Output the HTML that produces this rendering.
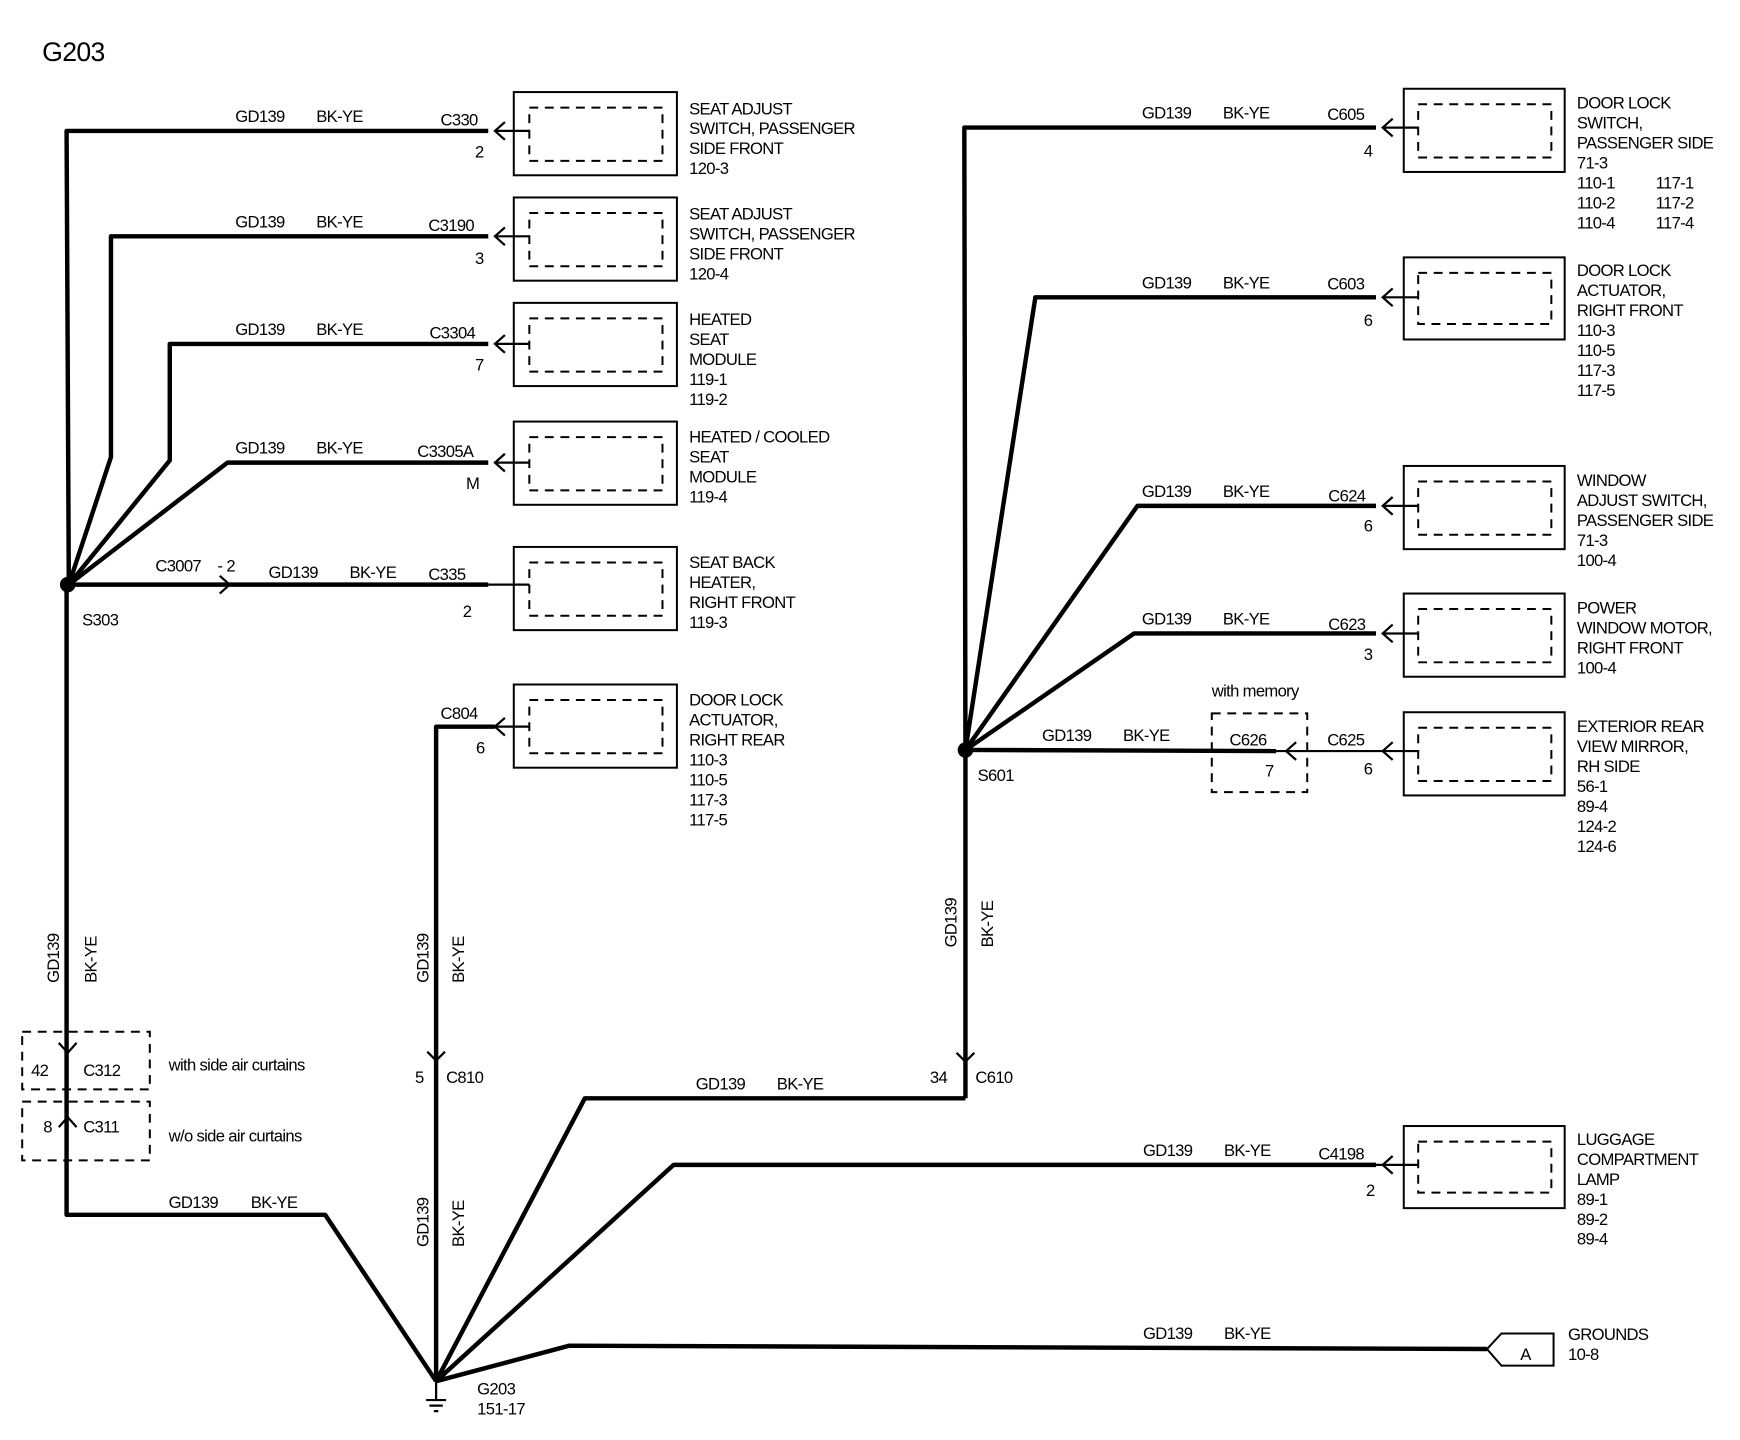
<!DOCTYPE html>
<html><head><meta charset="utf-8"><style>
html,body{margin:0;padding:0;background:#fff;}
svg{display:block;}
text{font-family:"Liberation Sans",Arial,sans-serif;font-size:15px;fill:#000;letter-spacing:-0.6px;}
.w{stroke:#000;stroke-width:4;fill:none;stroke-linejoin:round;}
.t{stroke:#000;stroke-width:2;fill:none;}
.b{stroke:#000;stroke-width:1.8;fill:none;}
.d{stroke:#000;stroke-width:1.8;fill:none;stroke-dasharray:8,6;}
</style></head><body>
<svg width="1740" height="1440" viewBox="0 0 1568 1298" preserveAspectRatio="none">
<text x="38" y="55" style="font-size:24px">G203</text>

<path class="w" d="M62,527 L60,118 L440,118"/>
<path class="w" d="M62,527 L100,412 L100,213 L440,213"/>
<path class="w" d="M62,527 L153,415 L153,310 L440,310"/>
<path class="w" d="M62,527 L205,417 L440,417"/>
<path class="w" d="M62,527 L440,527"/>
<path class="w" d="M60,527 L60,1095 L293,1095 L393,1245"/>
<circle cx="61" cy="527" r="7" fill="#000"/>
<text x="74" y="564">S303</text>

<g class="t">
<path d="M446,118 L477,118"/><path d="M455,110 L446,118 L455,126"/>
<path d="M446,213 L477,213"/><path d="M455,205 L446,213 L455,221"/>
<path d="M446,310 L477,310"/><path d="M455,302 L446,310 L455,318"/>
<path d="M446,417 L477,417"/><path d="M455,409 L446,417 L455,425"/>
<path d="M440,527 L477,527"/>
<path d="M198,519 L207,527 L198,535"/>
<path d="M446,655 L477,655"/><path d="M455,647 L446,655 L455,663"/>
</g>
<g>
<rect class="b" x="463" y="83" width="147" height="75"/><rect class="d" x="477" y="97" width="120" height="48"/>
<rect class="b" x="463" y="178" width="147" height="75"/><rect class="d" x="477" y="192" width="120" height="48"/>
<rect class="b" x="463" y="273" width="147" height="75"/><rect class="d" x="477" y="287" width="120" height="48"/>
<rect class="b" x="463" y="380" width="147" height="75"/><rect class="d" x="477" y="394" width="120" height="48"/>
<rect class="b" x="463" y="493" width="147" height="75"/><rect class="d" x="477" y="507" width="120" height="48"/>
<rect class="b" x="463" y="617" width="147" height="75"/><rect class="d" x="477" y="631" width="120" height="48"/>
</g>
<g>
<text x="212" y="110">GD139</text><text x="285" y="110">BK-YE</text><text x="397" y="113">C330</text><text x="428" y="142">2</text>
<text x="212" y="205">GD139</text><text x="285" y="205">BK-YE</text><text x="386" y="208">C3190</text><text x="428" y="238">3</text>
<text x="212" y="302">GD139</text><text x="285" y="302">BK-YE</text><text x="387" y="305">C3304</text><text x="428" y="334">7</text>
<text x="212" y="409">GD139</text><text x="285" y="409">BK-YE</text><text x="376" y="412">C3305A</text><text x="420" y="441">M</text>
<text x="140" y="515">C3007</text><text x="196" y="515">- 2</text><text x="242" y="521">GD139</text><text x="315" y="521">BK-YE</text><text x="386" y="523">C335</text><text x="417" y="556">2</text>
<text x="397" y="648">C804</text><text x="429" y="679">6</text>
</g>
<g>
<text x="621" y="103">SEAT ADJUST</text><text x="621" y="121">SWITCH, PASSENGER</text><text x="621" y="139">SIDE FRONT</text><text x="621" y="157">120-3</text>
<text x="621" y="198">SEAT ADJUST</text><text x="621" y="216">SWITCH, PASSENGER</text><text x="621" y="234">SIDE FRONT</text><text x="621" y="252">120-4</text>
<text x="621" y="293">HEATED</text><text x="621" y="311">SEAT</text><text x="621" y="329">MODULE</text><text x="621" y="347">119-1</text><text x="621" y="365">119-2</text>
<text x="621" y="399">HEATED / COOLED</text><text x="621" y="417">SEAT</text><text x="621" y="435">MODULE</text><text x="621" y="453">119-4</text>
<text x="621" y="512">SEAT BACK</text><text x="621" y="530">HEATER,</text><text x="621" y="548">RIGHT FRONT</text><text x="621" y="566">119-3</text>
<text x="621" y="636">DOOR LOCK</text><text x="621" y="654">ACTUATOR,</text><text x="621" y="672">RIGHT REAR</text><text x="621" y="690">110-3</text><text x="621" y="708">110-5</text><text x="621" y="726">117-3</text><text x="621" y="744">117-5</text>
</g>

<text transform="translate(53,886) rotate(-90)">GD139</text>
<text transform="translate(87,886) rotate(-90)">BK-YE</text>
<text transform="translate(386,886) rotate(-90)">GD139</text>
<text transform="translate(418,886) rotate(-90)">BK-YE</text>
<text transform="translate(386,1124) rotate(-90)">GD139</text>
<text transform="translate(418,1124) rotate(-90)">BK-YE</text>
<text transform="translate(862,854) rotate(-90)">GD139</text>
<text transform="translate(895,854) rotate(-90)">BK-YE</text>

<rect class="d" x="20" y="930" width="115" height="52"/>
<rect class="d" x="20" y="993" width="115" height="53"/>
<g class="t"><path d="M53,940 L61,949 L69,940"/><path d="M53,1016 L61,1007 L69,1016"/></g>
<text x="28" y="970">42</text><text x="75" y="970">C312</text><text x="152" y="965">with side air curtains</text>
<text x="39" y="1021">8</text><text x="75" y="1021">C311</text><text x="152" y="1029">w/o side air curtains</text>
<text x="152" y="1089">GD139</text><text x="226" y="1089">BK-YE</text>

<path class="w" d="M446,655 L393,655 L393,1245"/>
<path class="t" d="M385,948 L393,956 L401,948"/>
<text x="374" y="976">5</text><text x="402" y="976">C810</text>

<path class="w" d="M393,1245 L527,990 L870,990"/>
<path class="w" d="M393,1245 L607,1050 L1240,1050"/>
<path class="w" d="M393,1245 L513,1213 L1340,1216"/>
<g class="t"><path d="M1240,1050 L1278,1050"/><path d="M1255,1042 L1246,1050 L1255,1058"/></g>
<path class="t" d="M393,1245 L393,1262 M384,1262 L402,1262 M387,1267 L399,1267 M391,1272 L395,1272"/>
<text x="430" y="1257">G203</text><text x="430" y="1275">151-17</text>
<text x="627" y="982">GD139</text><text x="700" y="982">BK-YE</text>
<text x="1030" y="1042">GD139</text><text x="1103" y="1042">BK-YE</text><text x="1188" y="1045">C4198</text><text x="1231" y="1078">2</text>
<text x="1030" y="1207">GD139</text><text x="1103" y="1207">BK-YE</text>
<path class="b" d="M1340,1216 L1353,1202 L1400,1202 L1400,1231 L1353,1231 Z"/>
<text x="1370" y="1226">A</text>
<text x="1413" y="1208">GROUNDS</text><text x="1413" y="1226">10-8</text>

<path class="w" d="M870,676 L870,990"/>
<path class="t" d="M862,949 L870,957 L878,949"/>
<text x="838" y="976">34</text><text x="879" y="976">C610</text>
<path class="w" d="M870,676 L869,115 L1240,115"/>
<path class="w" d="M870,676 L933,268 L1240,268"/>
<path class="w" d="M870,676 L1025,456 L1240,456"/>
<path class="w" d="M870,676 L1022,571 L1240,571"/>
<path class="w" d="M870,676 L1150,677"/>
<path class="t" d="M1150,677 L1240,677"/>
<circle cx="870" cy="676" r="7" fill="#000"/>
<text x="881" y="704">S601</text>
<g class="t">
<path d="M1246,115 L1278,115"/><path d="M1255,107 L1246,115 L1255,123"/>
<path d="M1246,268 L1278,268"/><path d="M1255,260 L1246,268 L1255,276"/>
<path d="M1246,456 L1278,456"/><path d="M1255,448 L1246,456 L1255,464"/>
<path d="M1246,571 L1278,571"/><path d="M1255,563 L1246,571 L1255,579"/>
<path d="M1240,677 L1278,677"/><path d="M1255,669 L1246,677 L1255,685"/>
<path d="M1168,669 L1159,677 L1168,685"/>
</g>
<rect class="d" x="1092" y="643" width="86" height="71"/>
<text x="1092" y="628">with memory</text><text x="1108" y="672">C626</text><text x="1140" y="700">7</text>
<g>
<rect class="b" x="1265" y="80" width="145" height="75"/><rect class="d" x="1278" y="94" width="120" height="48"/>
<rect class="b" x="1265" y="232" width="145" height="74"/><rect class="d" x="1278" y="246" width="120" height="46"/>
<rect class="b" x="1265" y="420" width="145" height="75"/><rect class="d" x="1278" y="434" width="120" height="48"/>
<rect class="b" x="1265" y="535" width="145" height="75"/><rect class="d" x="1278" y="549" width="120" height="48"/>
<rect class="b" x="1265" y="642" width="145" height="75"/><rect class="d" x="1278" y="656" width="120" height="48"/>
<rect class="b" x="1265" y="1015" width="145" height="74"/><rect class="d" x="1278" y="1029" width="120" height="46"/>
</g>
<g>
<text x="1029" y="107">GD139</text><text x="1102" y="107">BK-YE</text><text x="1196" y="108">C605</text><text x="1229" y="141">4</text>
<text x="1029" y="260">GD139</text><text x="1102" y="260">BK-YE</text><text x="1196" y="261">C603</text><text x="1229" y="294">6</text>
<text x="1029" y="448">GD139</text><text x="1102" y="448">BK-YE</text><text x="1197" y="452">C624</text><text x="1229" y="479">6</text>
<text x="1029" y="563">GD139</text><text x="1102" y="563">BK-YE</text><text x="1197" y="568">C623</text><text x="1229" y="595">3</text>
<text x="939" y="668">GD139</text><text x="1012" y="668">BK-YE</text><text x="1196" y="672">C625</text><text x="1229" y="698">6</text>
</g>
<g>
<text x="1421" y="98">DOOR LOCK</text><text x="1421" y="116">SWITCH,</text><text x="1421" y="134">PASSENGER SIDE</text><text x="1421" y="152">71-3</text>
<text x="1421" y="170">110-1</text><text x="1492" y="170">117-1</text><text x="1421" y="188">110-2</text><text x="1492" y="188">117-2</text><text x="1421" y="206">110-4</text><text x="1492" y="206">117-4</text>
<text x="1421" y="249">DOOR LOCK</text><text x="1421" y="267">ACTUATOR,</text><text x="1421" y="285">RIGHT FRONT</text><text x="1421" y="303">110-3</text><text x="1421" y="321">110-5</text><text x="1421" y="339">117-3</text><text x="1421" y="357">117-5</text>
<text x="1421" y="438">WINDOW</text><text x="1421" y="456">ADJUST SWITCH,</text><text x="1421" y="474">PASSENGER SIDE</text><text x="1421" y="492">71-3</text><text x="1421" y="510">100-4</text>
<text x="1421" y="553">POWER</text><text x="1421" y="571">WINDOW MOTOR,</text><text x="1421" y="589">RIGHT FRONT</text><text x="1421" y="607">100-4</text>
<text x="1421" y="660">EXTERIOR REAR</text><text x="1421" y="678">VIEW MIRROR,</text><text x="1421" y="696">RH SIDE</text><text x="1421" y="714">56-1</text><text x="1421" y="732">89-4</text><text x="1421" y="750">124-2</text><text x="1421" y="768">124-6</text>
<text x="1421" y="1032">LUGGAGE</text><text x="1421" y="1050">COMPARTMENT</text><text x="1421" y="1068">LAMP</text><text x="1421" y="1086">89-1</text><text x="1421" y="1104">89-2</text><text x="1421" y="1122">89-4</text>
</g>
</svg>
</body></html>
